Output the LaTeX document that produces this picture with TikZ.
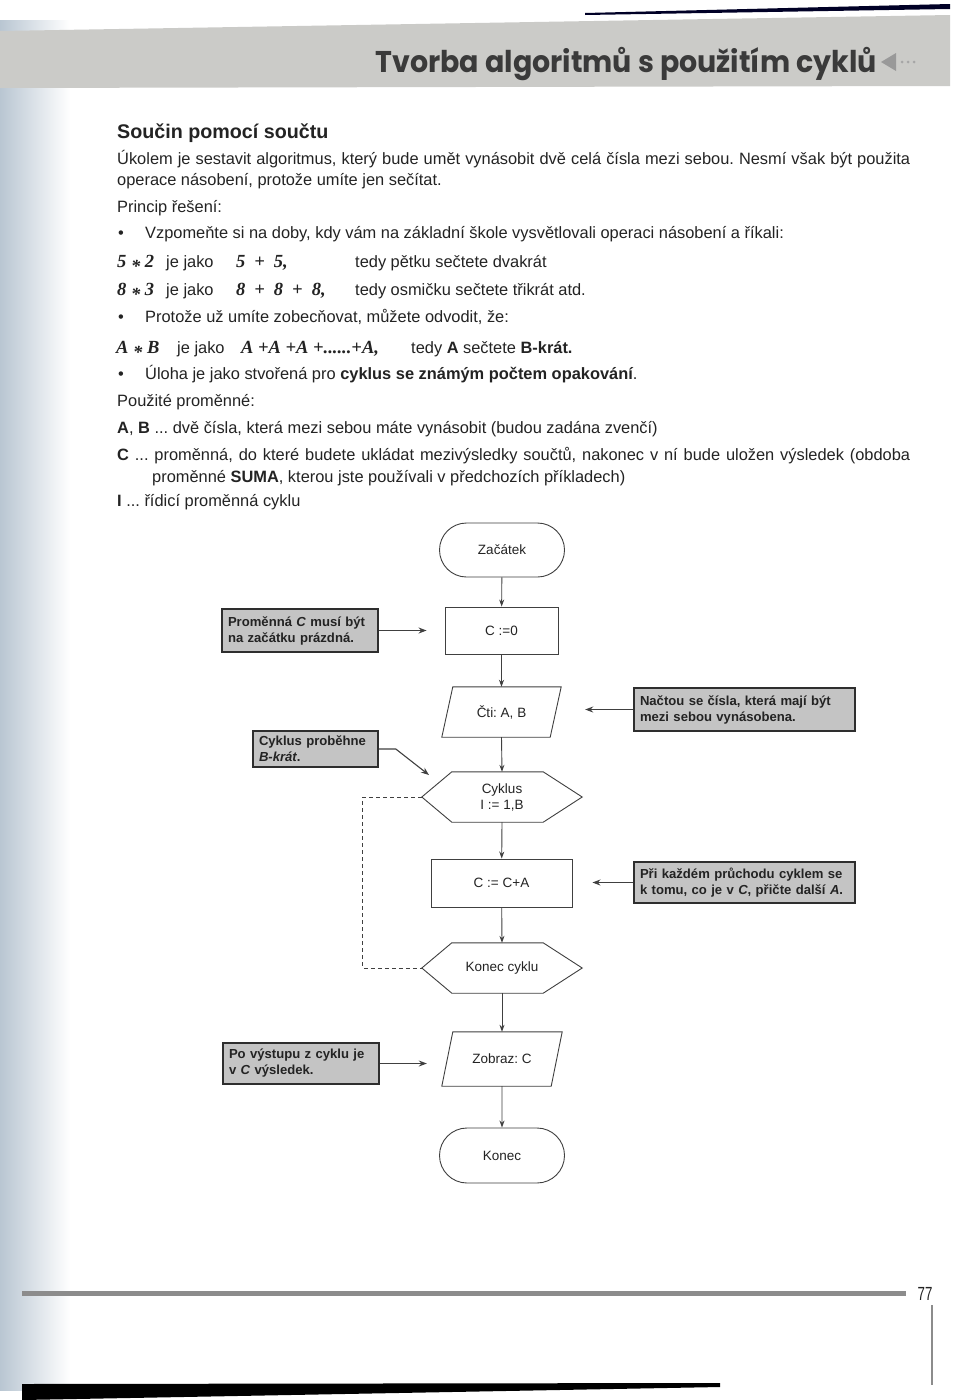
\documentclass[tikz,border=0pt]{standalone}
\usepackage{fontspec}
\usepackage{graphicx}
\setmainfont{Liberation Sans}
\newfontfamily\mathf{Liberation Serif}
\newfontfamily\hdrf{Poppins}
\usetikzlibrary{arrows.meta,shapes.misc}
\definecolor{txtc}{HTML}{232323}
\definecolor{linec}{HTML}{404040}
\definecolor{callfill}{HTML}{C4C4C4}
\definecolor{calldraw}{HTML}{2E2E2E}
\definecolor{bandc}{HTML}{CBCBC8}
\definecolor{hdrc}{HTML}{3A3A3A}
\definecolor{gutA}{HTML}{B9C6D2}
\definecolor{footc}{HTML}{8C8C8C}
\frenchspacing
\newcommand\bt{\fontsize{16.4}{20}\selectfont}
\newcommand\mt[1]{{\mathf\bfseries\itshape\fontsize{18.5}{20}\selectfont #1}}
\newcommand\mstar{\raisebox{-0.28em}{*}}
\newcommand\mpl{\hspace{9pt}+\hspace{9pt}}
\tikzset{
  txt/.style={anchor=base west, inner sep=0pt, text=txtc, font=\bt},
  flowtxt/.style={font=\fontsize{13.5}{16}\selectfont, text=txtc, align=center},
  procbox/.style={flowtxt, draw=linec, line width=0.9pt, fill=white, inner sep=0pt},
  stad/.style={flowtxt, rounded rectangle, draw=linec, line width=0.9pt, inner sep=0pt, minimum width=125pt, minimum height=54pt},
  ghost/.style={flowtxt, inner sep=0pt},
  outline/.style={draw=linec, line width=0.9pt},
  flowarrow/.style={draw=linec, line width=0.9pt, -{Stealth[length=7pt,width=5pt]}},
  callout/.style={draw=calldraw, line width=1.6pt, fill=callfill, inner sep=0pt, align=left, text=txtc,
     font=\bfseries\fontsize{13.1}{16}\selectfont},
  callarrow/.style={draw=linec, line width=1.1pt, -{Stealth[length=8pt,width=6pt]}},
  loopline/.style={draw=linec, line width=0.8pt, dash pattern=on 4pt off 3pt},
}
\begin{document}
\begin{tikzpicture}[x=1pt,y=-1pt]
\useasboundingbox (0,0) rectangle (960,1400);
\fill[white] (0,0) rectangle (960,1400);
% binding gutter
\shade[left color=gutA, right color=white] (0,20) rectangle (70,1390);
% top dark stripe and bottom dark edge (scan)
\fill[black!85!blue] (585,13) -- (950,4) -- (950,9) -- (585,15) -- cycle;
\fill[black] (22,1384) -- (720,1383) -- (720,1387) -- (22,1400) -- cycle;
% header band
\fill[bandc] (0,31) -- (950,15) -- (950,86) -- (0,88) -- cycle;
\node[anchor=base east, inner sep=0pt, text=hdrc] (title) at (877,72)
  {\hdrf\bfseries\fontsize{30}{30}\selectfont\scalebox{0.95}[1]{Tvorba algoritmů s použitím cyklů}};
\fill[gray!80] (881,62) -- (896,53) -- (896,71) -- cycle;
\foreach \dx in {902,908,914} \fill[gray!70] (\dx,62) circle (1.5);

% body text
\node[txt, font=\bfseries\fontsize{19.7}{22}\selectfont] (h1) at (117,138) {Součin pomocí součtu};
\node[txt] (p1) at (117,164) {\makebox[793pt][s]{Úkolem je sestavit algoritmus, který bude umět vynásobit dvě celá čísla mezi sebou. Nesmí však být použita}};
\node[txt] (p2) at (117,185) {operace násobení, protože umíte jen sečítat.};
\node[txt] (p3) at (117,212) {Princip řešení:};
\node[txt] (b1) at (118,238) {•};
\node[txt] (p4) at (145,238) {Vzpomeňte si na doby, kdy vám na základní škole vysvětlovali operaci násobení a říkali:};
\node[txt] (e1a) at (117,267) {\mt{5 \mstar{} 2}};
\node[txt] (e1b) at (166,267) {je jako};
\node[txt] (e1c) at (236,267) {\mt{5\mpl 5,}};
\node[txt] (e1d) at (355,267) {tedy pětku sečtete dvakrát};
\node[txt] (e2a) at (117,295) {\mt{8 \mstar{} 3}};
\node[txt] (e2b) at (166,295) {je jako};
\node[txt] (e2c) at (236,295) {\mt{8\mpl 8\mpl 8,}};
\node[txt] (e2d) at (355,295) {tedy osmičku sečtete třikrát atd.};
\node[txt] (b2) at (118,322) {•};
\node[txt] (p5) at (145,322) {Protože už umíte zobecňovat, můžete odvodit, že:};
\node[txt] (e3a) at (116,353) {\mt{A \mstar{} B}};
\node[txt] (e3b) at (177,353) {je jako};
\node[txt] (e3c) at (241,353) {\mt{A +A +A +......+A,}};
\node[txt] (e3d) at (411,353) {tedy \textbf{A} sečtete \textbf{B-krát.}};
\node[txt] (b3) at (118,379) {•};
\node[txt] (p6) at (145,379) {Úloha je jako stvořená pro \textbf{cyklus se známým počtem opakování}.};
\node[txt] (p7) at (117,406) {Použité proměnné:};
\node[txt] (p8) at (117,433) {\textbf{A}, \textbf{B} ... dvě čísla, která mezi sebou máte vynásobit (budou zadána zvenčí)};
\node[txt] (p9) at (117,460) {\makebox[793pt][s]{\textbf{C} ... proměnná, do které budete ukládat mezivýsledky součtů, nakonec v ní bude uložen výsledek (obdoba}};
\node[txt] (p10) at (152,482) {proměnné \textbf{SUMA}, kterou jste používali v předchozích příkladech)};
\node[txt] (p11) at (117,506) {\textbf{I} ... řídicí proměnná cyklu};

% flowchart
\node[stad] (zac) at (502,550) {Začátek};
\node[procbox, minimum width=113pt, minimum height=47pt] (c0) at (501.5,630.5) {C :=0};
\node[ghost, minimum width=119pt, minimum height=50pt] (cti) at (501.5,712) {Čti: A, B};
\draw[outline] ([xshift=11pt]cti.north west) -- (cti.north east) -- ([xshift=-11pt]cti.south east) -- (cti.south west) -- cycle;
\node[ghost, minimum width=160pt, minimum height=50pt] (cyk) at (502,797) {Cyklus\\I := 1,B};
\draw[outline] ([xshift=30pt]cyk.north west) -- ([xshift=-39pt]cyk.north east) -- (cyk.east) -- ([xshift=-39pt]cyk.south east) -- ([xshift=30pt]cyk.south west) -- (cyk.west) -- cycle;
\node[procbox, minimum width=141pt, minimum height=48pt] (cc) at (501.5,883) {C := C+A};
\node[ghost, minimum width=160pt, minimum height=50pt] (kc) at (502,968) {Konec cyklu};
\draw[outline] ([xshift=30pt]kc.north west) -- ([xshift=-39pt]kc.north east) -- (kc.east) -- ([xshift=-39pt]kc.south east) -- ([xshift=30pt]kc.south west) -- (kc.west) -- cycle;
\node[ghost, minimum width=120pt, minimum height=54pt] (zob) at (502,1059) {Zobraz: C};
\draw[outline] ([xshift=11pt]zob.north west) -- (zob.north east) -- ([xshift=-11pt]zob.south east) -- (zob.south west) -- cycle;
\node[stad, minimum height=55pt] (kon) at (502,1155.5) {Konec};

\draw[flowarrow] (zac) -- (c0);
\draw[flowarrow] (c0) -- (cti.north);
\draw[flowarrow] (cti.south) -- (cyk.north);
\draw[flowarrow] (cyk.south) -- (cc);
\draw[flowarrow] (cc) -- (kc.north);
\draw[flowarrow] (kc.south) -- (zob.north);
\draw[flowarrow] (zob.south) -- (kon);
\draw[loopline] (cyk.west) -- ++(-59,0) |- (kc.west);

% callouts
\node[callout, minimum width=156pt, minimum height=43pt, text width=144pt] (pc) at (300,630.5)
  {Proměnná \textit{C} musí být\\na začátku prázdná.};
\node[callout, minimum width=125pt, minimum height=36pt, text width=113pt] (cp) at (315.5,749)
  {Cyklus proběhne\\\textit{B-krát}.};
\node[callout, minimum width=221pt, minimum height=43pt, text width=209pt] (nc) at (744.5,709.5)
  {Načtou se čísla, která mají být\\mezi sebou vynásobena.};
\node[callout, minimum width=221pt, minimum height=41pt, text width=209pt] (pk) at (744.5,882.5)
  {Při každém průchodu cyklem se\\k tomu, co je v \textit{C}, přičte další \textit{A}.};
\node[callout, minimum width=156pt, minimum height=41pt, text width=144pt] (pv) at (301,1063.5)
  {Po výstupu z cyklu je\\v \textit{C} výsledek.};
\coordinate (cpend) at (429,775);
\draw[callarrow] (pc.east) -- ([xshift=-18pt]c0.west);
\draw[callarrow] (cp.east) -- ++(17,0) -- (cpend);
\draw[callarrow] (nc.west) -- ([xshift=24pt]cti.east |- nc.west);
\draw[callarrow] (pk.west) -- ([xshift=20pt]cc.east |- pk.west);
\draw[callarrow] (pv.east) -- ([xshift=-15pt]zob.west |- pv.east);

% footer
\draw[footc, line width=5pt] (22,1293) -- (906,1293);
\node[anchor=base, inner sep=0pt, text=txtc] (pg) at (925,1300) {\fontsize{19}{19}\selectfont\scalebox{0.7}[1]{77}};
\draw[footc, line width=2.5pt] (932,1305) -- (932,1385);
\end{tikzpicture}
\end{document}
